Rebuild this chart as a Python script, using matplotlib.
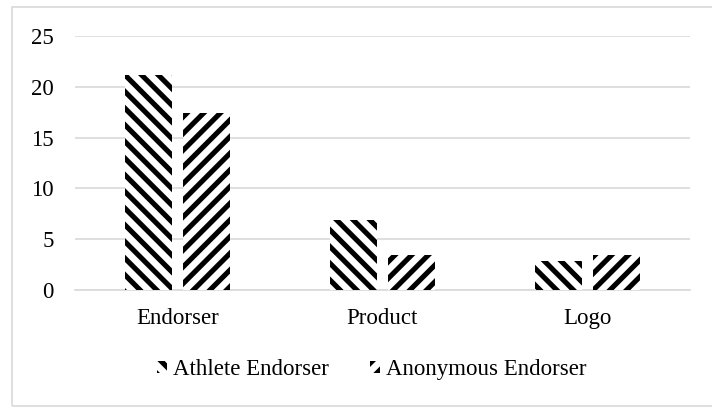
import matplotlib.pyplot as plt
import numpy as np
from matplotlib.patches import Rectangle

plt.rcParams['font.family'] = ['Liberation Serif', 'DejaVu Serif']
plt.rcParams['hatch.linewidth'] = 3.7
plt.rcParams['hatch.color'] = 'black'

# data
categorias = ['Endorser', 'Product', 'Logo']
athlete = [21.2, 6.9, 2.9]
anonymous = [17.4, 3.5, 3.5]
series_names = ['Athlete Endorser', 'Anonymous Endorser']

fig = plt.figure(figsize=(7.12, 4.08), dpi=100)
ax = fig.add_axes([0.105, 0.289, 0.864, 0.623])

x = np.arange(len(categorias))
w = 0.23
off = 0.142
ax.bar(x - off, athlete, w, color='white', edgecolor='black', linewidth=0,
       hatch='\\\\', label=series_names[0], zorder=3)
ax.bar(x + off, anonymous, w, color='white', edgecolor='black', linewidth=0,
       hatch='//', label=series_names[1], zorder=3)

ax.set_xlim(-0.5, 2.5)
ax.set_ylim(0, 25)
ax.set_yticks([0, 5, 10, 15, 20, 25])
ax.set_xticks(x)
ax.set_xticklabels(categorias)
ax.yaxis.grid(True, color='#d9d9d9', linewidth=1.2, zorder=0)
ax.tick_params(axis='both', length=0, labelsize=16.5, colors='black')
ax.tick_params(axis='x', pad=13)
ax.tick_params(axis='y', pad=15)
for s in ['top', 'right', 'left']:
    ax.spines[s].set_visible(False)
ax.spines['bottom'].set_color('#d9d9d9')
ax.spines['bottom'].set_linewidth(1.2)

leg = fig.legend(loc='center', bbox_to_anchor=(0.522, 0.094), ncol=2,
                 frameon=False, fontsize=16.5, handlelength=0.45, handleheight=0.45,
                 handletextpad=0.25, columnspacing=1.8)

# outer chart border
fig.patches.append(Rectangle((12 / 712, 2 / 408), 1.0, 399 / 408,
                             transform=fig.transFigure, fill=False,
                             edgecolor='#d9d9d9', linewidth=1.2))

fig.savefig('out.png', dpi=100)
